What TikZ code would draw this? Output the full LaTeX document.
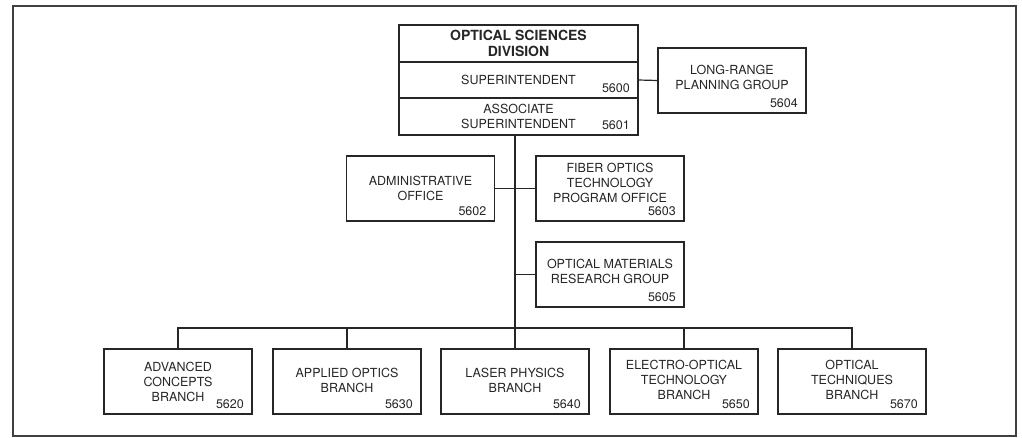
\documentclass[tikz,border=0pt]{standalone}
\usepackage{fontspec}
\setmainfont{TeX Gyre Heros}
\usetikzlibrary{positioning}

\definecolor{ink}{gray}{0.15}
\newcommand{\unitfont}{\fontsize{12.5}{15}\selectfont}

\tikzset{
	unit/.style={draw=ink, line width=1.2pt, outer sep=0pt, inner sep=0pt, minimum width=148pt, minimum height=65pt, align=center, text=ink, font=\unitfont},
	row/.style={unit, minimum width=239pt},
	lift/.style={text depth=#1},
	num/.style={anchor=south east, inner xsep=8pt, inner ysep=5pt, text=ink, font=\unitfont},
	link/.style={draw=ink, line width=1.2pt},
}

\begin{document}
\begin{tikzpicture}[x=1pt, y=-1pt]
		\useasboundingbox (0,0) rectangle (1022,438);
		\draw[line width=2.5pt, draw=black!75] (13,6) rectangle (1016,436);

		% division head, stacked in three rows
		\node[row, minimum height=37pt, lift=-3pt, font=\fontsize{14}{16}\selectfont\bfseries] (div) at (518.5,43.5) {OPTICAL SCIENCES\\DIVISION};
		\node[row, minimum height=36pt, below=0pt of div] (sup) {SUPERINTENDENT};
		\node[num] at (sup.south east) {5600};
		\node[row, minimum height=37pt, below=0pt of sup] (assoc) {ASSOCIATE\\SUPERINTENDENT};
		\node[num] at (assoc.south east) {5601};

		% staff offices
		\node[unit, lift=6pt] (lrp) at (732,80.5) {LONG-RANGE\\PLANNING GROUP};
		\node[num] at (lrp.south east) {5604};
		\node[unit] (admin) at (420.5,188.5) {ADMINISTRATIVE\\OFFICE};
		\node[num] at (admin.south east) {5602};
		\node[unit, lift=11pt] (fiber) at (610,188.5) {FIBER OPTICS\\TECHNOLOGY\\PROGRAM OFFICE};
		\node[num] at (fiber.south east) {5603};
		\node[unit, lift=7pt] (mat) at (610,274.5) {OPTICAL MATERIALS\\RESEARCH GROUP};
		\node[num] at (mat.south east) {5605};

		% branches
		\node[unit] (adv) at (178,381.5) {ADVANCED\\CONCEPTS\\BRANCH};
		\node[num] at (adv.south east) {5620};
		\node[unit, lift=3pt] (appl) at (347,381.5) {APPLIED OPTICS\\BRANCH};
		\node[num] at (appl.south east) {5630};
		\node[unit, lift=3pt] (laser) at (515,381.5) {LASER PHYSICS\\BRANCH};
		\node[num] at (laser.south east) {5640};
		\node[unit, lift=4pt] (elop) at (684,381.5) {ELECTRO-OPTICAL\\TECHNOLOGY\\BRANCH};
		\node[num] at (elop.south east) {5650};
		\node[unit, lift=4pt] (optech) at (852,381.5) {OPTICAL\\TECHNIQUES\\BRANCH};
		\node[num] at (optech.south east) {5670};

		% connections
		\draw[link] (sup.east) -- (lrp.west);
		\draw[link] (assoc.south -| laser.north) -- (laser.north);
		\draw[link] (admin.east) -- (fiber.west);
		\draw[link] (mat.west) -- (mat.west -| laser.north);
		\draw[link] (adv.north) -- ++(0,-21) -| (optech.north);
		\draw[link] (appl.north) -- ++(0,-21);
		\draw[link] (elop.north) -- ++(0,-21);
\end{tikzpicture}
\end{document}
